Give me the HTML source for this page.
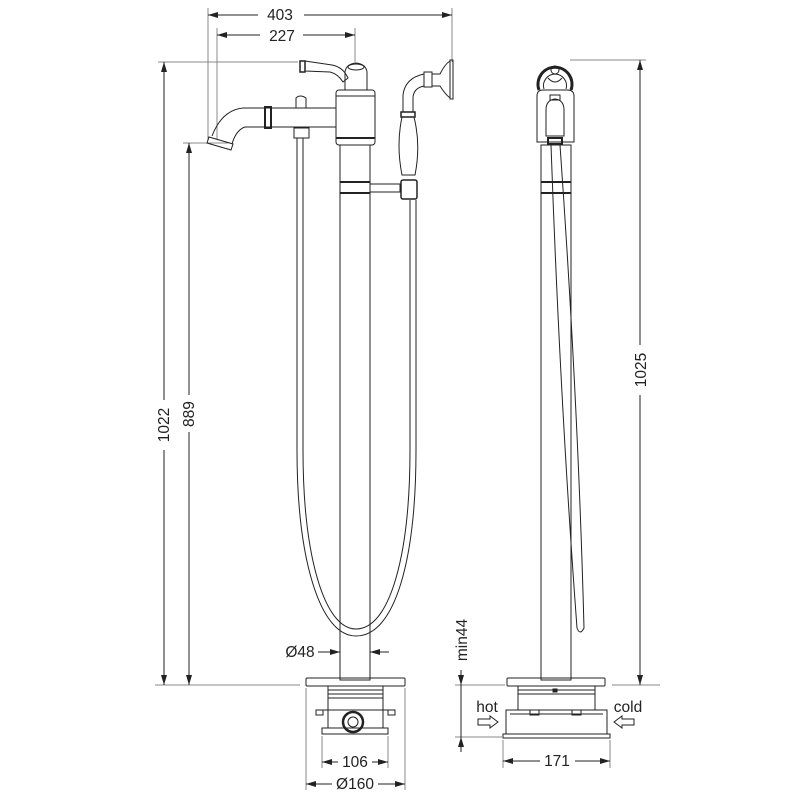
<!DOCTYPE html>
<html><head><meta charset="utf-8"><style>
html,body{margin:0;padding:0;background:#fff}
svg{display:block}
text{font-family:"Liberation Sans",sans-serif;font-size:15.5px;fill:#222}
</style></head><body>
<svg width="800" height="800" viewBox="0 0 800 800" xmlns="http://www.w3.org/2000/svg">
<defs>
<marker id="a" viewBox="0 0 10 6" refX="10" refY="3" markerWidth="10" markerHeight="6" orient="auto-start-reverse" markerUnits="userSpaceOnUse"><path d="M0,0 L10,3 L0,6 z" fill="#222"/></marker>
</defs>
<g stroke="#222" stroke-width="1" fill="none">
<line x1="208" y1="8" x2="208" y2="140" stroke="#888"/>
<line x1="452" y1="8" x2="452" y2="62" stroke="#888"/>
<line x1="217" y1="28" x2="217" y2="140" stroke="#888"/>
<line x1="355" y1="28" x2="355" y2="62" stroke="#888"/>
<line x1="208" y1="15" x2="258" y2="15" marker-start="url(#a)"/>
<line x1="304" y1="15" x2="452" y2="15" marker-end="url(#a)"/>
<line x1="217" y1="35" x2="260" y2="35" marker-start="url(#a)"/>
<line x1="303" y1="35" x2="355" y2="35" marker-end="url(#a)"/>
<line x1="158" y1="62" x2="298" y2="62" stroke="#888"/>
<line x1="183" y1="143" x2="228" y2="143" stroke="#888"/>
<line x1="155" y1="685" x2="300" y2="685" stroke="#888"/>
<line x1="164" y1="62" x2="164" y2="400" marker-start="url(#a)"/>
<line x1="164" y1="450" x2="164" y2="685" marker-end="url(#a)"/>
<line x1="189" y1="143" x2="189" y2="395" marker-start="url(#a)"/>
<line x1="189" y1="432" x2="189" y2="685" marker-end="url(#a)"/>
<rect x="340" y="145" width="30" height="535"/>
<rect x="336" y="90" width="39" height="55" rx="3"/>
<line x1="336" y1="96" x2="375" y2="96"/>
<line x1="336" y1="138" x2="375" y2="138" stroke-width="2"/>
<line x1="340" y1="182" x2="370" y2="182" stroke-width="2"/>
<line x1="340" y1="193" x2="370" y2="193" stroke-width="2"/>
<path d="M345,90 L345,72 Q346,64 356,63 Q366,64 367,72 L367,90 z"/>
<ellipse cx="356" cy="67" rx="8" ry="3"/>
<path d="M305,61 L332,65 Q343,67 348,78 L343,82 Q338,74 330,72 L305,71 z"/>
<rect x="300" y="61" width="5" height="11" stroke-width="1.5"/>
<path d="M336,108 L243,108 Q222,110 212,136 M336,127 L245,127 Q236,130 232,144"/>
<path d="M209,137 L233,144 L231,150 L207,143 z"/>
<rect x="265" y="107" width="6" height="21" stroke-width="2"/>
<path d="M296,108 L296,98 Q300,94 306,98 L306,108"/>
<rect x="294" y="128" width="15" height="10"/>
<path d="M297,138 L297,450 C297,560 320,636 356,636 C395,636 416,560 416,450 L416,200"/>
<path d="M303,138 L303,450 C303,555 324,629 356,629 C390,629 410,555 410,450 L410,200"/>
<rect x="370" y="184" width="30" height="8"/>
<rect x="401" y="180" width="16" height="19" rx="2" stroke-width="1.5"/>
<path d="M402,175 Q396,145 402,117 L414,117 Q421,145 415,175 z"/>
<rect x="401" y="112" width="14" height="5" stroke-width="1.5"/>
<path d="M403,112 L403,95 Q405,78 424,74 M413,112 L413,97 Q414,88 424,86"/>
<rect x="424" y="72" width="8" height="15"/>
<path d="M432,74 L440,74 Q445,64 450,61 L450,98 Q445,94 440,86 L432,86"/>
<rect x="450" y="60" width="3" height="39"/>
<rect x="306" y="678" width="99" height="8" rx="1"/>
<rect x="328" y="686" width="55" height="24"/>
<line x1="328" y1="690" x2="383" y2="690"/><line x1="328" y1="694" x2="383" y2="694"/><line x1="328" y1="698" x2="383" y2="698"/>
<path d="M328,710 L328,728 M383,710 L383,728 M318,710 L390,710"/>
<rect x="316" y="710" width="7" height="5"/><rect x="388" y="710" width="7" height="5"/>
<rect x="322" y="728" width="66" height="6"/>
<circle cx="353" cy="722" r="10" stroke-width="2.5"/>
<circle cx="353" cy="722" r="5"/>
<line x1="318" y1="652" x2="340" y2="652" marker-end="url(#a)"/>
<line x1="370" y1="652" x2="389" y2="652" marker-start="url(#a)"/>
<line x1="322" y1="736" x2="322" y2="768" stroke="#888"/>
<line x1="388" y1="736" x2="388" y2="768" stroke="#888"/>
<line x1="306" y1="688" x2="306" y2="790" stroke="#888"/>
<line x1="405" y1="688" x2="405" y2="790" stroke="#888"/>
<line x1="322" y1="762" x2="338" y2="762" marker-start="url(#a)"/>
<line x1="372" y1="762" x2="388" y2="762" marker-end="url(#a)"/>
<line x1="306" y1="784" x2="332" y2="784" marker-start="url(#a)"/>
<line x1="378" y1="784" x2="405" y2="784" marker-end="url(#a)"/>
<rect x="541" y="145" width="30" height="535"/>
<path d="M537,142 L537,96 Q537,90 543,90 L567,90 Q574,90 574,96 L574,142 z"/>
<path d="M539,90 A17,17 0 1 1 571,90" stroke-width="3"/>
<path d="M544,89 A11.5,11.5 0 1 1 566,89"/>
<circle cx="555" cy="70" r="4"/>
<path d="M548,78 Q555,86 562,78"/>
<path d="M546,110 Q546,100 555,99 Q564,100 564,110 L564,136 L546,136 z"/>
<rect x="550" y="95" width="10" height="5"/>
<rect x="548" y="138" width="14" height="6" stroke-width="2"/>
<line x1="541" y1="182" x2="571" y2="182" stroke-width="2"/>
<line x1="541" y1="193" x2="571" y2="193" stroke-width="2"/>
<path d="M551,145 Q560,400 577,628 Q580,636 584,628 Q578,400 560,145"/>
<rect x="507" y="678" width="98" height="8" rx="1"/>
<rect x="518" y="686" width="77" height="24"/>
<line x1="518" y1="690" x2="595" y2="690"/><line x1="518" y1="694" x2="595" y2="694"/>
<rect x="553" y="689" width="4" height="3" fill="#222"/>
<rect x="506" y="710" width="101" height="24"/>
<line x1="510" y1="714" x2="603" y2="714"/>
<rect x="530" y="710" width="9" height="5"/><rect x="572" y="710" width="9" height="5"/>
<rect x="503" y="734" width="107" height="4"/>
<line x1="570" y1="60" x2="646" y2="60" stroke="#888"/>
<line x1="612" y1="685" x2="660" y2="685" stroke="#888"/>
<line x1="640" y1="60" x2="640" y2="345" marker-start="url(#a)"/>
<line x1="640" y1="395" x2="640" y2="685" marker-end="url(#a)"/>
<line x1="455" y1="685" x2="505" y2="685" stroke="#888"/>
<line x1="455" y1="737" x2="502" y2="737" stroke="#888"/>
<line x1="461" y1="670" x2="461" y2="685" marker-end="url(#a)"/>
<line x1="461" y1="752" x2="461" y2="737" marker-end="url(#a)"/>
<line x1="461" y1="685" x2="461" y2="737"/>
<line x1="503" y1="740" x2="503" y2="768" stroke="#888"/>
<line x1="610" y1="740" x2="610" y2="768" stroke="#888"/>
<line x1="503" y1="761" x2="540" y2="761" marker-start="url(#a)"/>
<line x1="575" y1="761" x2="610" y2="761" marker-end="url(#a)"/>
<path d="M478,719 L490,719 L490,716 L498,722 L490,728 L490,725 L478,725 z"/>
<path d="M634,719 L622,719 L622,716 L614,722 L622,728 L622,725 L634,725 z"/>
</g>
<text x="280" y="20" text-anchor="middle">403</text>
<text x="282" y="41" text-anchor="middle">227</text>
<text transform="translate(169,425) rotate(-90)" text-anchor="middle">1022</text>
<text transform="translate(194,414) rotate(-90)" text-anchor="middle">889</text>
<text transform="translate(646,370) rotate(-90)" text-anchor="middle">1025</text>
<text transform="translate(467,640) rotate(-90)" text-anchor="middle">min44</text>
<text x="300" y="657" text-anchor="middle">Ø48</text>
<text x="355" y="767" text-anchor="middle">106</text>
<text x="355" y="789" text-anchor="middle">Ø160</text>
<text x="557" y="766" text-anchor="middle">171</text>
<text x="487" y="712" text-anchor="middle">hot</text>
<text x="628" y="712" text-anchor="middle">cold</text>
</svg>
</body></html>
